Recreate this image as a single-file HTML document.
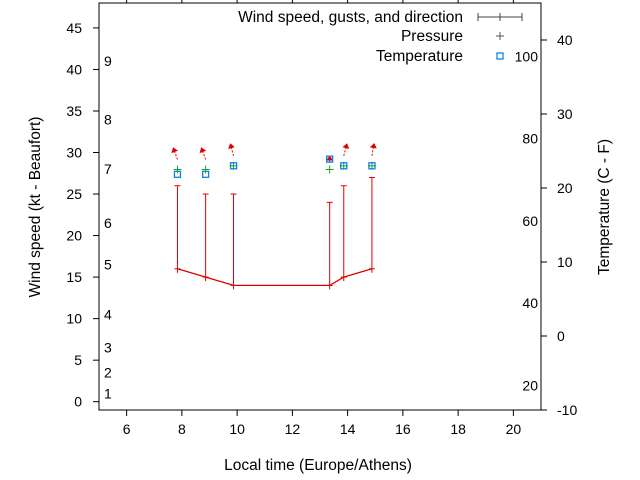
<!DOCTYPE html>
<html><head><meta charset="utf-8"><style>
body{margin:0;background:#fff}
svg{display:block;font-family:"Liberation Sans",sans-serif;font-size:14px}
.big{font-size:15.5px}
</style></head><body>
<svg id="chart" width="640" height="480" viewBox="0 0 640 480">
<g id="axes"></g>
<g id="marks"></g>
<g id="legend">
<text class="big" x="463" y="22" text-anchor="end">Wind speed, gusts, and direction</text>
<g stroke="#444" stroke-width="1">
<line x1="478" y1="17" x2="522" y2="17"/><line x1="478" y1="13" x2="478" y2="21"/><line x1="522" y1="13" x2="522" y2="21"/><line x1="500" y1="13" x2="500" y2="21"/></g>
<text class="big" x="463" y="41" text-anchor="end">Pressure</text>
<g stroke="#555"><line x1="496" y1="36" x2="504" y2="36"/><line x1="500" y1="32" x2="500" y2="40"/></g>
<text class="big" x="463" y="61" text-anchor="end">Temperature</text>
<rect x="497" y="53" width="6" height="6" fill="none" stroke="#0a84e0" stroke-width="1.3"/>
</g>
<text class="big" x="318" y="470" text-anchor="middle">Local time (Europe/Athens)</text>
<text class="big" transform="translate(40,207) rotate(-90)" text-anchor="middle">Wind speed (kt - Beaufort)</text>
<text class="big" transform="translate(609,207) rotate(-90)" text-anchor="middle">Temperature (C - F)</text>
</svg>
<script>
const times=[7.84,8.86,9.87,13.35,13.86,14.88];
const speed=[16,15,14,14,15,16];
const gusts=[26,25,25,24,26,27];
const temps=[21.85,21.85,23,23.9,23,23];
const pressure=[22.5,22.5,23,22.5,23,23];
const windDir=[340,340,345,0,15,10];
const xTicks=[6,8,10,12,14,16,18,20];
const yTicks=[0,5,10,15,20,25,30,35,40,45];
const y2Ticks=[-10,0,10,20,30,40];
const fLabels=[20,40,60,80,100];
const bft=[1,2,3,4,5,6,7,8,9];
const bftKt=[1,3.5,6.5,10.5,16.5,21.5,28,34,41];

const L=99,R=541,T=3,B=410;
const X=t=>L+(t-5)/(21-5)*(R-L);
const Y=v=>B-(v+1)/(48+1)*(B-T);
const Y2=c=>B-(c+10)/(45+10)*(B-T);
const NS='http://www.w3.org/2000/svg';
function mk(p,tag,a){const e=document.createElementNS(NS,tag);for(const k in a)e.setAttribute(k,a[k]);p.appendChild(e);return e;}
const ax=document.getElementById('axes'),mg=document.getElementById('marks');
let f=mk(ax,'rect',{x:L,y:T,width:R-L,height:B-T,fill:'none',stroke:'#000','stroke-width':1});


xTicks.forEach(t=>{const x=X(t);
 let l=mk(ax,'line',{x1:x,y1:B,x2:x,y2:B+6,stroke:'#000'});
 
 
 let l2=mk(ax,'line',{x1:x,y1:T,x2:x,y2:T-6,stroke:'#000'});
 
 
 let tx=mk(ax,'text',{x:x,y:B+24,'text-anchor':'middle'});tx.textContent=t;
 
 });
yTicks.forEach(v=>{const y=Y(v);
 let l=mk(ax,'line',{x1:L-6,y1:y,x2:L,y2:y,stroke:'#000'});
 
 
 let tx=mk(ax,'text',{x:L-17,y:y+5,'text-anchor':'end'});tx.textContent=v;
 
 });
y2Ticks.forEach(c=>{const y=Y2(c);
 let l=mk(ax,'line',{x1:R,y1:y,x2:R+6,y2:y,stroke:'#000'});
 
 
 let tx=mk(ax,'text',{x:R+16,y:y+5});tx.textContent=c;
 
 });
fLabels.forEach(F=>{const y=Y2((F-32)*5/9);
 let tx=mk(ax,'text',{x:R-3,y:y+5,'text-anchor':'end'});tx.textContent=F;
 
 });
bft.forEach((b,i)=>{let tx=mk(ax,'text',{x:104,y:Y(bftKt[i])+5});tx.textContent=b;
 
 });
let pl=mk(mg,'polyline',{points:times.map((t,i)=>X(t)+','+Y(speed[i])).join(' '),fill:'none',stroke:'#e00000','stroke-width':1.3});


times.forEach((t,i)=>{const x=X(t);
 let g=mk(mg,'g',{stroke:'#e00000','stroke-width':1});
 
 
 mk(g,'line',{x1:x,y1:Y(speed[i])+4,x2:x,y2:Y(gusts[i])});
 mk(g,'line',{x1:x-3,y1:Y(gusts[i]),x2:x+3,y2:Y(gusts[i])});
 mk(g,'line',{x1:x-3,y1:Y(speed[i]),x2:x+3,y2:Y(speed[i])});
 const bx=x,by=Y2(pressure[i])-(i===3?7:10),a=windDir[i]*Math.PI/180,len=(i===3?5:11);
 const hx=bx+Math.sin(a)*len,hy=by-Math.cos(a)*len;
 let ar=mk(mg,'g',{stroke:'#e00000',fill:'#e00000'});
 
 
 mk(ar,'line',{x1:bx,y1:by,x2:hx,y2:hy,'stroke-dasharray':'2,1.5'});
 const ux=Math.sin(a),uy=-Math.cos(a);
 mk(ar,'polygon',{points:`${hx+ux*2},${hy+uy*2} ${hx-ux*3-uy*3.5},${hy-uy*3+ux*3.5} ${hx-ux*3+uy*3.5},${hy-uy*3-ux*3.5}`,stroke:'none'});
 const py=Y2(pressure[i]);
 let p=mk(mg,'g',{stroke:'#22a022','stroke-width':1});
 
 
 mk(p,'line',{x1:x-4,y1:py,x2:x+4,y2:py});mk(p,'line',{x1:x,y1:py-4,x2:x,y2:py+4});
 const ty=Y2(temps[i]);
 let s=mk(mg,'rect',{x:x-3,y:ty-3,width:6,height:6,fill:'none',stroke:'#0a84e0','stroke-width':1.3});
 
 
});
</script>
</body></html>
